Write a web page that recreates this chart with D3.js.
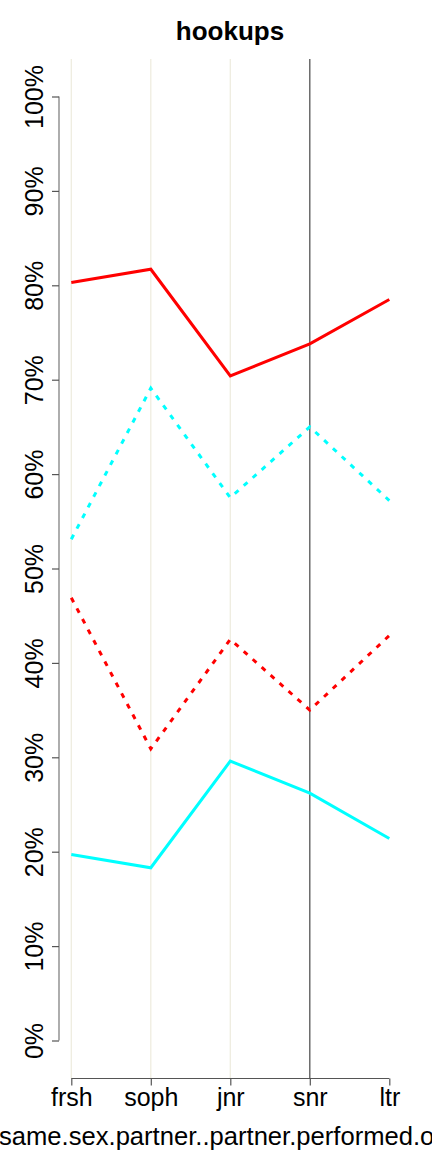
<!DOCTYPE html>
<html>
<head>
<meta charset="utf-8">
<script src="https://cdn.jsdelivr.net/npm/d3@7"></script>
<style>
  html, body { margin: 0; padding: 0; background: #fff; }
  svg { display: block; }
  text { font-family: "Liberation Sans", Arial, Helvetica, sans-serif; }
</style>
</head>
<body>
<svg id="chart" width="432" height="1152"></svg>
<script>
// ---- data ----
const title = "hookups";
const xTitle = "same.sex.partner..partner.performed.oral.sex";
const categories = ["frsh", "soph", "jnr", "snr", "ltr"];
const redSolid   = [80.3, 81.7, 70.4, 73.8, 78.5];
const cyanSolid  = [19.7, 18.3, 29.6, 26.2, 21.4];
const cyanDashed = [53.1, 69.1, 57.5, 65.0, 57.2];
const redDashed  = [46.9, 30.9, 42.5, 35.0, 42.9];
const yTicks = [0, 10, 20, 30, 40, 50, 60, 70, 80, 90, 100];
const lightGrid = ["frsh", "soph", "jnr"];
const darkGrid = ["snr"];

const series = [
  { values: redSolid,   color: "#ff0000", dash: null },
  { values: cyanDashed, color: "#00ffff", dash: "5,7" },
  { values: redDashed,  color: "#ff0000", dash: "5,7" },
  { values: cyanSolid,  color: "#00ffff", dash: null }
];

// ---- layout ----
const svg = d3.select("#chart");
const x = d3.scalePoint().domain(categories).range([71.3, 389.3]);
const y = d3.scaleLinear().domain([0, 100]).range([1040.5, 96.5]);
const plotTop = 59, xAxisY = 1078.5, yAxisX = 59;

// grid lines
svg.append("g").selectAll("line").data(lightGrid).join("line")
  .attr("x1", d => x(d)).attr("x2", d => x(d))
  .attr("y1", plotTop).attr("y2", xAxisY)
  .attr("stroke", "#efede0").attr("stroke-width", 1.3);
svg.append("g").selectAll("line").data(darkGrid).join("line")
  .attr("x1", d => x(d)).attr("x2", d => x(d))
  .attr("y1", plotTop).attr("y2", xAxisY)
  .attr("stroke", "#555555").attr("stroke-width", 1.3);

// y axis
const yAxis = svg.append("g").attr("transform", `translate(${yAxisX},0)`)
  .call(d3.axisLeft(y).tickValues(yTicks).tickSize(7).tickFormat(d => d + "%"));
yAxis.select(".domain").attr("stroke", "#777").attr("stroke-width", 1.2)
  .attr("d", `M0,${y(0)}V${y(100)}`);
yAxis.selectAll(".tick line").attr("stroke", "#555").attr("stroke-width", 1.2);
yAxis.selectAll(".tick text")
  .attr("font-size", 25).attr("fill", "#000")
  .attr("font-family", "Liberation Sans, Arial, sans-serif")
  .attr("text-anchor", "middle").attr("dy", null).attr("x", null)
  .attr("transform", "translate(-16,0) rotate(-90)");

// x axis
const xAxis = svg.append("g").attr("transform", `translate(0,${xAxisY})`)
  .call(d3.axisBottom(x).tickSize(7));
xAxis.select(".domain").attr("stroke", "#555").attr("stroke-width", 1.2)
  .attr("d", `M${x("frsh")},0H${x("ltr")}`);
xAxis.selectAll(".tick line").attr("stroke", "#555").attr("stroke-width", 1.2);
xAxis.selectAll(".tick text")
  .attr("font-size", 25).attr("fill", "#000")
  .attr("font-family", "Liberation Sans, Arial, sans-serif")
  .attr("y", 27).attr("dy", null);

// lines
const line = d3.line().x((d, i) => x(categories[i])).y(d => y(d));
svg.append("g").selectAll("path").data(series).join("path")
  .attr("d", d => line(d.values))
  .attr("fill", "none")
  .attr("stroke", d => d.color)
  .attr("stroke-width", 3)
  .attr("stroke-dasharray", d => d.dash);

// title
svg.append("text").attr("x", 230).attr("y", 40)
  .attr("text-anchor", "middle").attr("font-size", 26).attr("font-weight", "bold")
  .text(title);

// x title (runs off both edges, as in the reference)
svg.append("text").attr("x", -1).attr("y", 1145)
  .attr("font-size", 25.6).text(xTitle);
</script>
</body>
</html>
